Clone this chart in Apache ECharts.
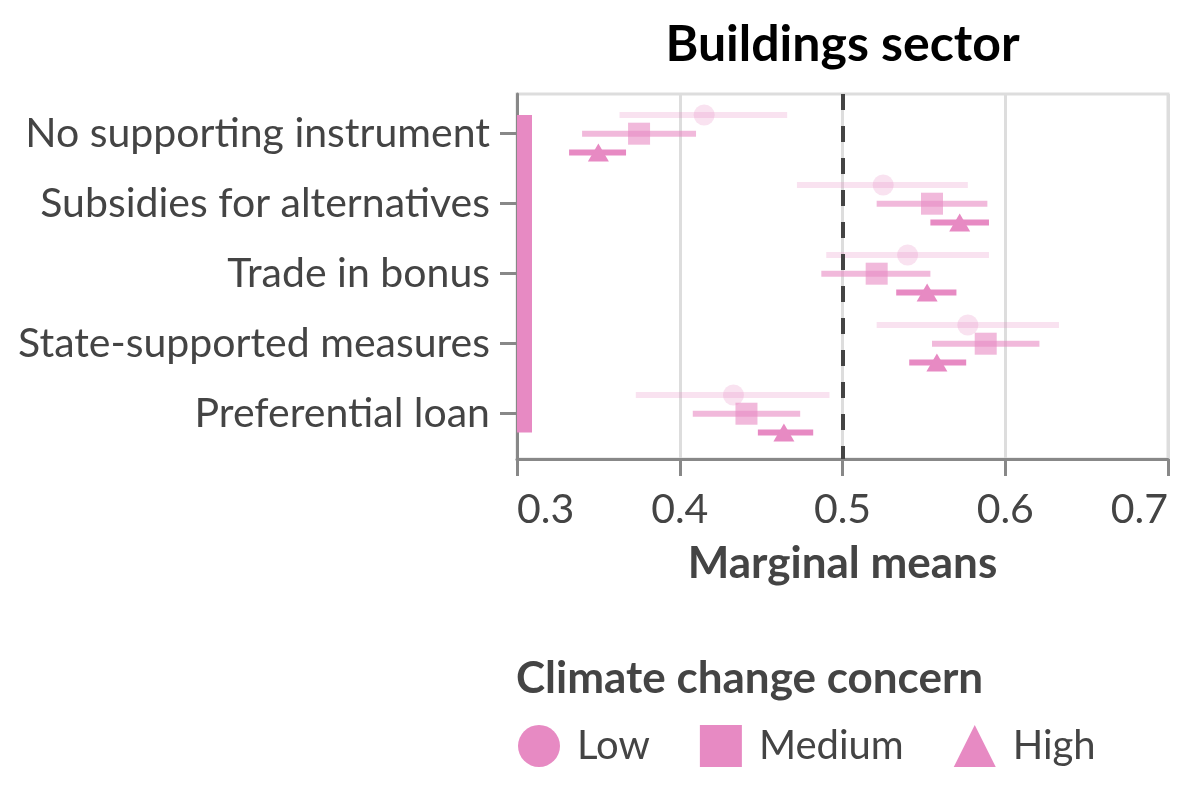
<!DOCTYPE html>
<html>
<head>
<meta charset="utf-8">
<script src="https://cdn.jsdelivr.net/npm/echarts@6/dist/echarts.min.js"></script>
<style>
  html, body { margin: 0; padding: 0; background: #fff; }
  #main { width: 1192px; height: 792px; }
</style>
</head>
<body>
<div id="main"></div>
<script>
// rows, top to bottom
var categories = [
  "No supporting instrument",
  "Subsidies for alternatives",
  "Trade in bonus",
  "State-supported measures",
  "Preferential loan"
];
var levels = ["Low", "Medium", "High"];

// marginal means with confidence bounds, per concern level
var lowMean = [0.415, 0.525, 0.540, 0.577, 0.433];
var lowLower = [0.363, 0.472, 0.490, 0.521, 0.373];
var lowUpper = [0.466, 0.577, 0.590, 0.633, 0.492];

var medMean = [0.375, 0.555, 0.521, 0.588, 0.441];
var medLower = [0.340, 0.521, 0.487, 0.555, 0.408];
var medUpper = [0.410, 0.589, 0.554, 0.621, 0.474];

var highMean = [0.350, 0.572, 0.552, 0.558, 0.464];
var highLower = [0.332, 0.554, 0.533, 0.541, 0.448];
var highUpper = [0.367, 0.590, 0.570, 0.576, 0.482];

var xTicks = [0.3, 0.4, 0.5, 0.6, 0.7];
var refLine = 0.5;

var pink = "#e78ac3";
var dodge = { Low: -0.267, Medium: 0, High: 0.267 };
var alpha = { Low: 0.25, Medium: 0.6, High: 1 };
var symbols = { Low: "circle", Medium: "rect", High: "triangle" };
var symbolSizes = { Low: 21, Medium: 22, High: [21, 18] };

var chart = echarts.init(document.getElementById("main"));

function rowsFor(level, mean, lo, hi) {
  var pts = [], bars = [];
  for (var i = 0; i < categories.length; i++) {
    var y = i + dodge[level];
    pts.push([mean[i], y]);
    bars.push([lo[i], hi[i], y]);
  }
  return { pts: pts, bars: bars };
}

var sets = {
  Low: rowsFor("Low", lowMean, lowLower, lowUpper),
  Medium: rowsFor("Medium", medMean, medLower, medUpper),
  High: rowsFor("High", highMean, highLower, highUpper)
};

var series = [];

// sector strip along the left axis
series.push({
  type: "custom",
  silent: true,
  z: 1,
  data: [[xTicks[0], 0 + dodge.Low, categories.length - 1 + dodge.High]],
  renderItem: function (params, api) {
    var top = api.coord([api.value(0), api.value(1)]);
    var bottom = api.coord([api.value(0), api.value(2)]);
    return {
      type: "rect",
      shape: { x: top[0], y: top[1], width: 15, height: bottom[1] - top[1] },
      style: { fill: pink }
    };
  }
});

levels.forEach(function (lv) {
  // error bars
  series.push({
    name: lv,
    type: "custom",
    silent: true,
    z: 2,
    data: sets[lv].bars,
    renderItem: function (params, api) {
      var a = api.coord([api.value(0), api.value(2)]);
      var b = api.coord([api.value(1), api.value(2)]);
      return {
        type: "line",
        shape: { x1: a[0], y1: a[1], x2: b[0], y2: b[1] },
        style: { stroke: pink, lineWidth: 6, opacity: alpha[lv] }
      };
    }
  });
  // point estimates
  series.push({
    name: lv,
    type: "scatter",
    z: 3,
    symbol: symbols[lv],
    symbolSize: symbolSizes[lv],
    itemStyle: { color: pink, opacity: alpha[lv] },
    data: sets[lv].pts
  });
});

// dashed reference at 0.5
series.push({
  type: "line",
  data: [],
  markLine: {
    silent: true,
    symbol: "none",
    label: { show: false },
    lineStyle: { color: "#444", width: 4, type: [16, 16] },
    data: [{ xAxis: refLine }]
  }
});

chart.setOption({
  backgroundColor: "#fff",
  textStyle: { fontFamily: "Lato" },
  animation: false,
  title: [
    {
      text: "Climate change concern",
      left: 516,
      top: 657,
      padding: 0,
      textStyle: { fontFamily: "Lato", fontWeight: "bold", fontSize: 44, color: "#444" }
    }
  ],
  grid: {
    left: 517,
    right: 24,
    top: 94,
    bottom: 333,
    show: true,
    borderColor: "#ddd",
    borderWidth: 3
  },
  legend: {
    left: 518,
    top: 725,
    padding: 0,
    itemWidth: 42,
    itemHeight: 42,
    itemGap: 50,
    textStyle: { fontFamily: "Lato", fontSize: 40, color: "#444", padding: [0, 0, 0, 12] },
    data: levels.map(function (lv) {
      return { name: lv, icon: symbols[lv], itemStyle: { color: pink, opacity: 1 } };
    })
  },
  xAxis: [
    {
      type: "value",
      min: xTicks[0],
      max: xTicks[xTicks.length - 1],
      interval: 0.1,
      name: "Marginal means",
      nameLocation: "middle",
      nameGap: 83,
      nameTextStyle: { fontFamily: "Lato", fontWeight: "bold", fontSize: 44, color: "#444" },
      axisLine: { show: true, onZero: false, lineStyle: { color: "#888", width: 3 } },
      axisTick: { show: true, length: 17, lineStyle: { color: "#888", width: 3 } },
      axisLabel: {
        margin: 30,
        fontSize: 41,
        color: "#444",
        fontFamily: "Lato",
        alignMinLabel: "left",
        alignMaxLabel: "right",
        formatter: function (v) { return v.toFixed(1); }
      },
      splitLine: { show: true, lineStyle: { color: "#ddd", width: 3 } }
    },
    {
      type: "value",
      position: "top",
      min: xTicks[0],
      max: xTicks[xTicks.length - 1],
      name: "Buildings sector",
      nameLocation: "middle",
      nameGap: 24,
      nameTextStyle: { fontFamily: "Lato", fontWeight: "bold", fontSize: 50, color: "#000" },
      axisLine: { show: false, onZero: false },
      axisTick: { show: false },
      axisLabel: { show: false },
      splitLine: { show: false }
    }
  ],
  yAxis: {
    type: "value",
    inverse: true,
    min: -0.567,
    max: 4.647,
    axisLine: { show: true, onZero: false, lineStyle: { color: "#888", width: 3 } },
    axisTick: {
      show: true,
      length: 17,
      customValues: [0, 1, 2, 3, 4],
      lineStyle: { color: "#888", width: 3 }
    },
    axisLabel: {
      margin: 27,
      fontSize: 41,
      color: "#444",
      fontFamily: "Lato",
      customValues: [0, 1, 2, 3, 4],
      formatter: function (v) { return categories[Math.round(v)]; }
    },
    splitLine: { show: false }
  },
  series: series
});
</script>
</body>
</html>
